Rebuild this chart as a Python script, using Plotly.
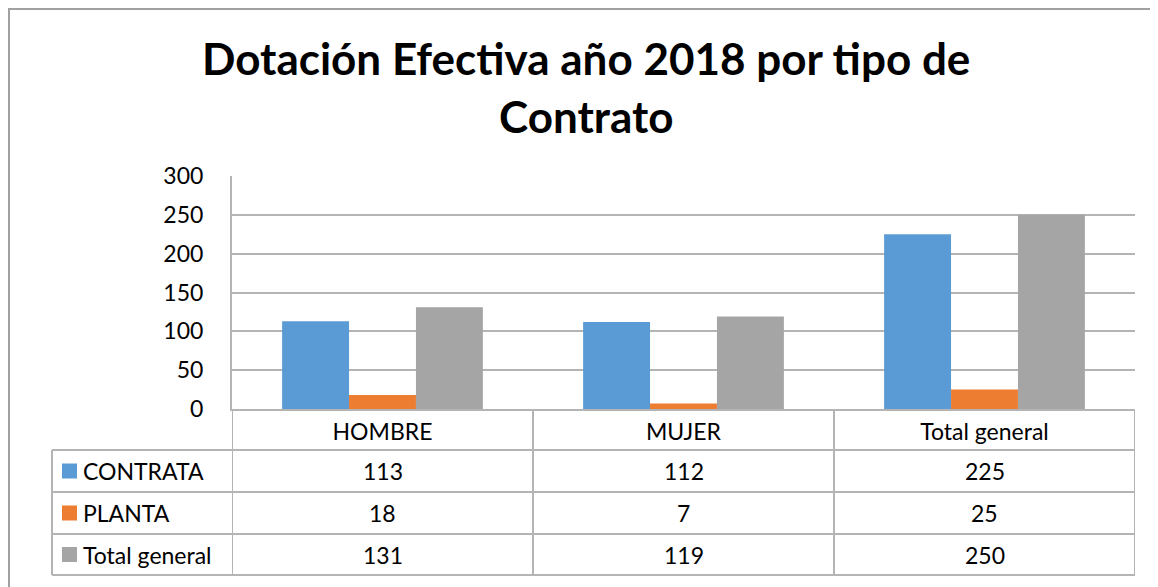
import plotly.graph_objs as go

categories = ["HOMBRE", "MUJER", "Total general"]
series_names = ["CONTRATA", "PLANTA", "Total general"]
contrata = [113, 112, 225]
planta = [18, 7, 25]
total_general = [131, 119, 250]
series_values = [contrata, planta, total_general]
colors = ["#5B9BD5", "#ED7D31", "#A5A5A5"]
y_ticks = [0, 50, 100, 150, 200, 250, 300]

# page body adds an 8px margin around the figure
OFF = 8
W, H = 1158, 587
L = 232 - OFF
T = 176 - OFF
plot_w = 903
plot_h = 233
R = W - L - plot_w
B = H - T - plot_h
line_col = "#B4B4B4"
font = "Lato"
fsize = 23


def py(ypx):
    # screen pixel row -> paper y
    return (T + plot_h - (ypx - OFF)) / plot_h


def px(xpx):
    # screen pixel column -> paper x
    return (xpx - OFF - L) / plot_w


fig = go.Figure()

for name, vals, col in zip(series_names, series_values, colors):
    fig.add_trace(go.Bar(
        x=categories,
        y=vals,
        name=name,
        marker=dict(color=col, line=dict(width=0)),
        showlegend=False
    ))

shapes = []
# table rows (screen px positions of the row borders)
row_lines = [450, 492, 534, 575]
for yy in row_lines:
    shapes.append(dict(type="line", xref="paper", yref="paper",
                       x0=px(52), x1=1, y0=py(yy), y1=py(yy),
                       line=dict(color=line_col, width=2)))
# left border of the series label column
shapes.append(dict(type="line", xref="paper", yref="paper",
                   x0=px(52), x1=px(52), y0=py(450), y1=py(575),
                   line=dict(color=line_col, width=2)))
# category column borders
for xx in [-0.5, 0.5, 1.5, 2.5]:
    shapes.append(dict(type="line", xref="x", yref="paper",
                       x0=xx, x1=xx, y0=0, y1=py(575),
                       line=dict(color=line_col, width=2)))

annotations = []
row_centers = [471, 513, 554.5]
for i, (name, vals, col) in enumerate(zip(series_names, series_values, colors)):
    yc = row_centers[i]
    # legend key square
    shapes.append(dict(type="rect", xref="paper", yref="paper",
                       x0=px(62), x1=px(77), y0=py(yc + 7.5), y1=py(yc - 7.5),
                       fillcolor=col, line=dict(width=0)))
    annotations.append(dict(text=name, xref="paper", yref="paper",
                            x=px(81), y=py(yc), xanchor="left", yanchor="middle",
                            showarrow=False,
                            font=dict(family=font, size=fsize, color="black")))
    for cat, v in zip(categories, vals):
        annotations.append(dict(text=str(v), xref="x", yref="paper",
                                x=cat, y=py(yc), xanchor="center", yanchor="middle",
                                showarrow=False,
                                font=dict(family=font, size=fsize, color="black")))

# chart outer border (only left and top visible)
shapes.append(dict(type="rect", xref="paper", yref="paper",
                   x0=(1 - L) / plot_w, x1=px(1200), y0=(T + plot_h - 1) / plot_h, y1=py(650),
                   line=dict(color="#A0A0A0", width=2), layer="below"))

# title in two lines
title_lines = ["Dotación Efectiva año 2018 por tipo de", "Contrato"]
for txt, yc in zip(title_lines, [58, 116]):
    annotations.append(dict(text="<b>" + txt + "</b>", xref="paper", yref="paper",
                            x=px(586), y=py(yc), xanchor="center", yanchor="middle",
                            showarrow=False,
                            font=dict(family=font, size=44, color="black")))

fig.update_layout(
    width=W,
    height=H,
    margin=dict(l=L, r=R, t=T, b=B),
    paper_bgcolor="white",
    plot_bgcolor="white",
    bargap=0.333,
    bargroupgap=0,
    barmode="group",
    shapes=shapes,
    annotations=annotations,
    font=dict(family=font, size=fsize, color="black")
)

fig.update_xaxes(
    showline=True, linecolor=line_col, linewidth=2,
    showgrid=False, ticks="",
    range=[-0.5, 2.5],
    tickfont=dict(family=font, size=fsize, color="black"),
    ticklabelstandoff=1
)

fig.update_yaxes(
    range=[0, 300],
    tickvals=y_ticks,
    showline=True, linecolor=line_col, linewidth=2,
    showgrid=True, gridcolor=line_col, gridwidth=2,
    zeroline=False, ticks="",
    tickfont=dict(family=font, size=fsize, color="black"),
    ticklabelstandoff=22
)

fig.write_html("out.html")
